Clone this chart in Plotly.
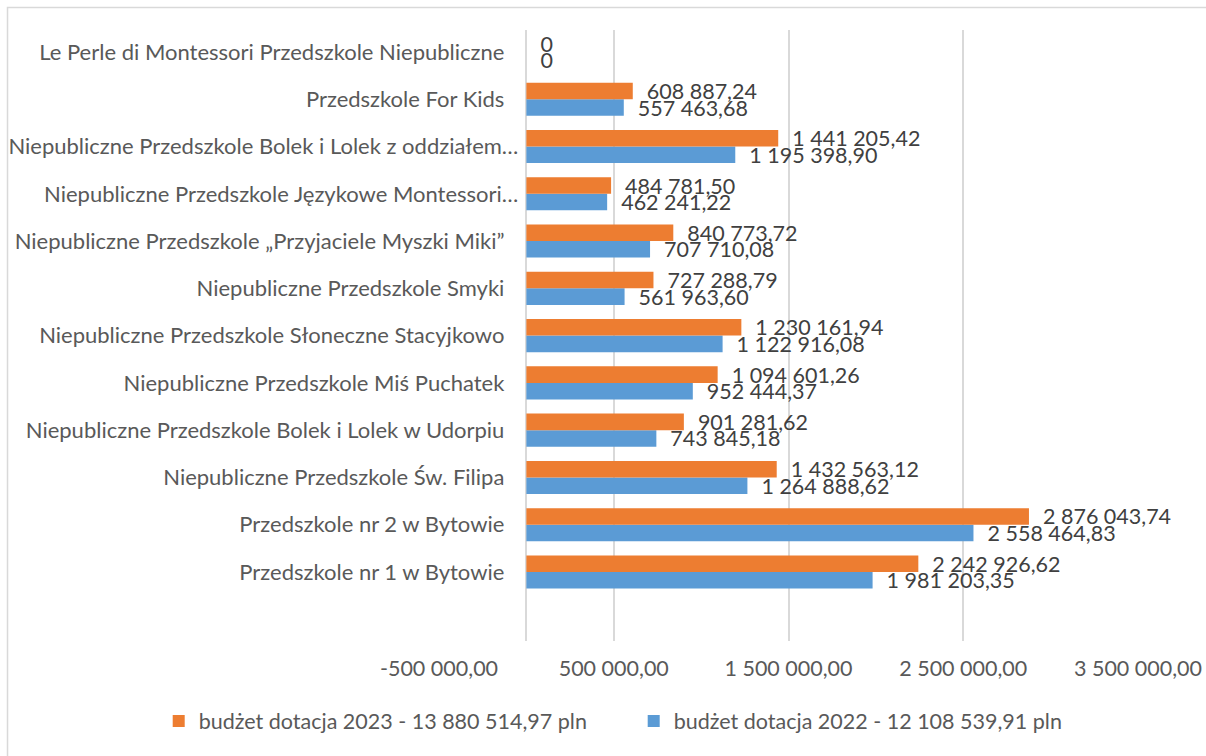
import plotly.graph_objects as go

# categories listed bottom -> top (plotly puts the first category at the bottom)
schools = [
    "Przedszkole nr 1 w Bytowie",
    "Przedszkole nr 2 w Bytowie",
    "Niepubliczne Przedszkole Św. Filipa",
    "Niepubliczne Przedszkole Bolek i Lolek w Udorpiu",
    "Niepubliczne Przedszkole Miś Puchatek",
    "Niepubliczne Przedszkole Słoneczne Stacyjkowo",
    "Niepubliczne Przedszkole Smyki",
    "Niepubliczne Przedszkole „Przyjaciele Myszki Miki”",
    "Niepubliczne Przedszkole Językowe Montessori…",
    "Niepubliczne Przedszkole Bolek i Lolek z oddziałem…",
    "Przedszkole For Kids",
    "Le Perle di Montessori Przedszkole Niepubliczne",
]
dotacja_2023 = [2242926.62, 2876043.74, 1432563.12, 901281.62, 1094601.26, 1230161.94,
                727288.79, 840773.72, 484781.50, 1441205.42, 608887.24, 0]
dotacja_2022 = [1981203.35, 2558464.83, 1264888.62, 743845.18, 952444.37, 1122916.08,
                561963.60, 707710.08, 462241.22, 1195398.90, 557463.68, 0]
name_2023 = "budżet dotacja 2023 - 13 880 514,97 pln"
name_2022 = "budżet dotacja 2022 - 12 108 539,91 pln"
xticks = [-500000, 500000, 1500000, 2500000, 3500000]

ORANGE = "#ED7D31"
BLUE = "#5B9BD5"
GRID = "#D9D9D9"
FONT = "Lato"
FS = 21.5


def pln(v):
    if v == 0:
        return "0"
    return f"{v:,.2f}".replace(",", " ").replace(".", ",")


def lbl(v):
    return "\u00a0\u00a0" + pln(v)


def cat(s):
    # truncated (…) names run a bit further right than the full ones, as in Excel
    return s if s.endswith("…") else s + "\u00a0\u00a0\u2009"


fig = go.Figure()
fig.add_trace(go.Bar(
    y=schools, x=dotacja_2022, orientation="h", name=name_2022,
    marker=dict(color=BLUE, line=dict(width=0)),
    text=[lbl(v) for v in dotacja_2022], textposition="outside",
    textfont=dict(family=FONT, size=FS, color="#404040"),
    constraintext="none", cliponaxis=False, hoverinfo="skip",
))
fig.add_trace(go.Bar(
    y=schools, x=dotacja_2023, orientation="h", name=name_2023,
    marker=dict(color=ORANGE, line=dict(width=0)),
    text=[lbl(v) for v in dotacja_2023], textposition="outside",
    textfont=dict(family=FONT, size=FS, color="#404040"),
    constraintext="none", cliponaxis=False, hoverinfo="skip",
))

# light chart-area border (top and left edges)
fig.add_shape(type="path", xref="paper", yref="paper",
              path="M -0.6173,-0.3 L -0.6173,1.0368 L 1.2,1.0368",
              line=dict(color=GRID, width=1.5))

fig.update_layout(
    width=1206, height=756,
    margin=dict(l=439, r=68, t=30, b=115, autoexpand=False),
    plot_bgcolor="white", paper_bgcolor="white",
    barmode="group", bargap=0.30, bargroupgap=0,
    separators=", ",
    font=dict(family=FONT, color="#595959"),
    legend=dict(orientation="h", traceorder="reversed",
                x=-0.401, xanchor="left", y=-0.131, yanchor="middle",
                font=dict(family=FONT, size=FS, color="#595959"),
                entrywidth=430, entrywidthmode="pixels", itemwidth=30),
    showlegend=True,
)
fig.update_xaxes(
    range=[-500000, 3500000], tickmode="array", tickvals=xticks,
    ticktext=[pln(v) for v in xticks],
    showgrid=True, gridcolor=GRID, gridwidth=1.5,
    zeroline=True, zerolinecolor=GRID, zerolinewidth=1.5,
    showline=False, ticks="", ticklabelstandoff=12, automargin=False,
    tickfont=dict(family=FONT, size=FS, color="#595959"),
)
fig.update_yaxes(
    range=[-1.46, 11.465], anchor="free", position=0.125,
    tickmode="array", tickvals=schools, ticktext=[cat(s) for s in schools],
    showgrid=False, zeroline=False, showline=False, ticks="",
    ticklabelstandoff=8, automargin=False,
    tickfont=dict(family=FONT, size=22, color="#595959"),
)

# the page gets no body margin so the figure sits at the window's corner
fig.write_html("out.html", config={"displayModeBar": False},
               post_script="document.body.style.margin='0';")
